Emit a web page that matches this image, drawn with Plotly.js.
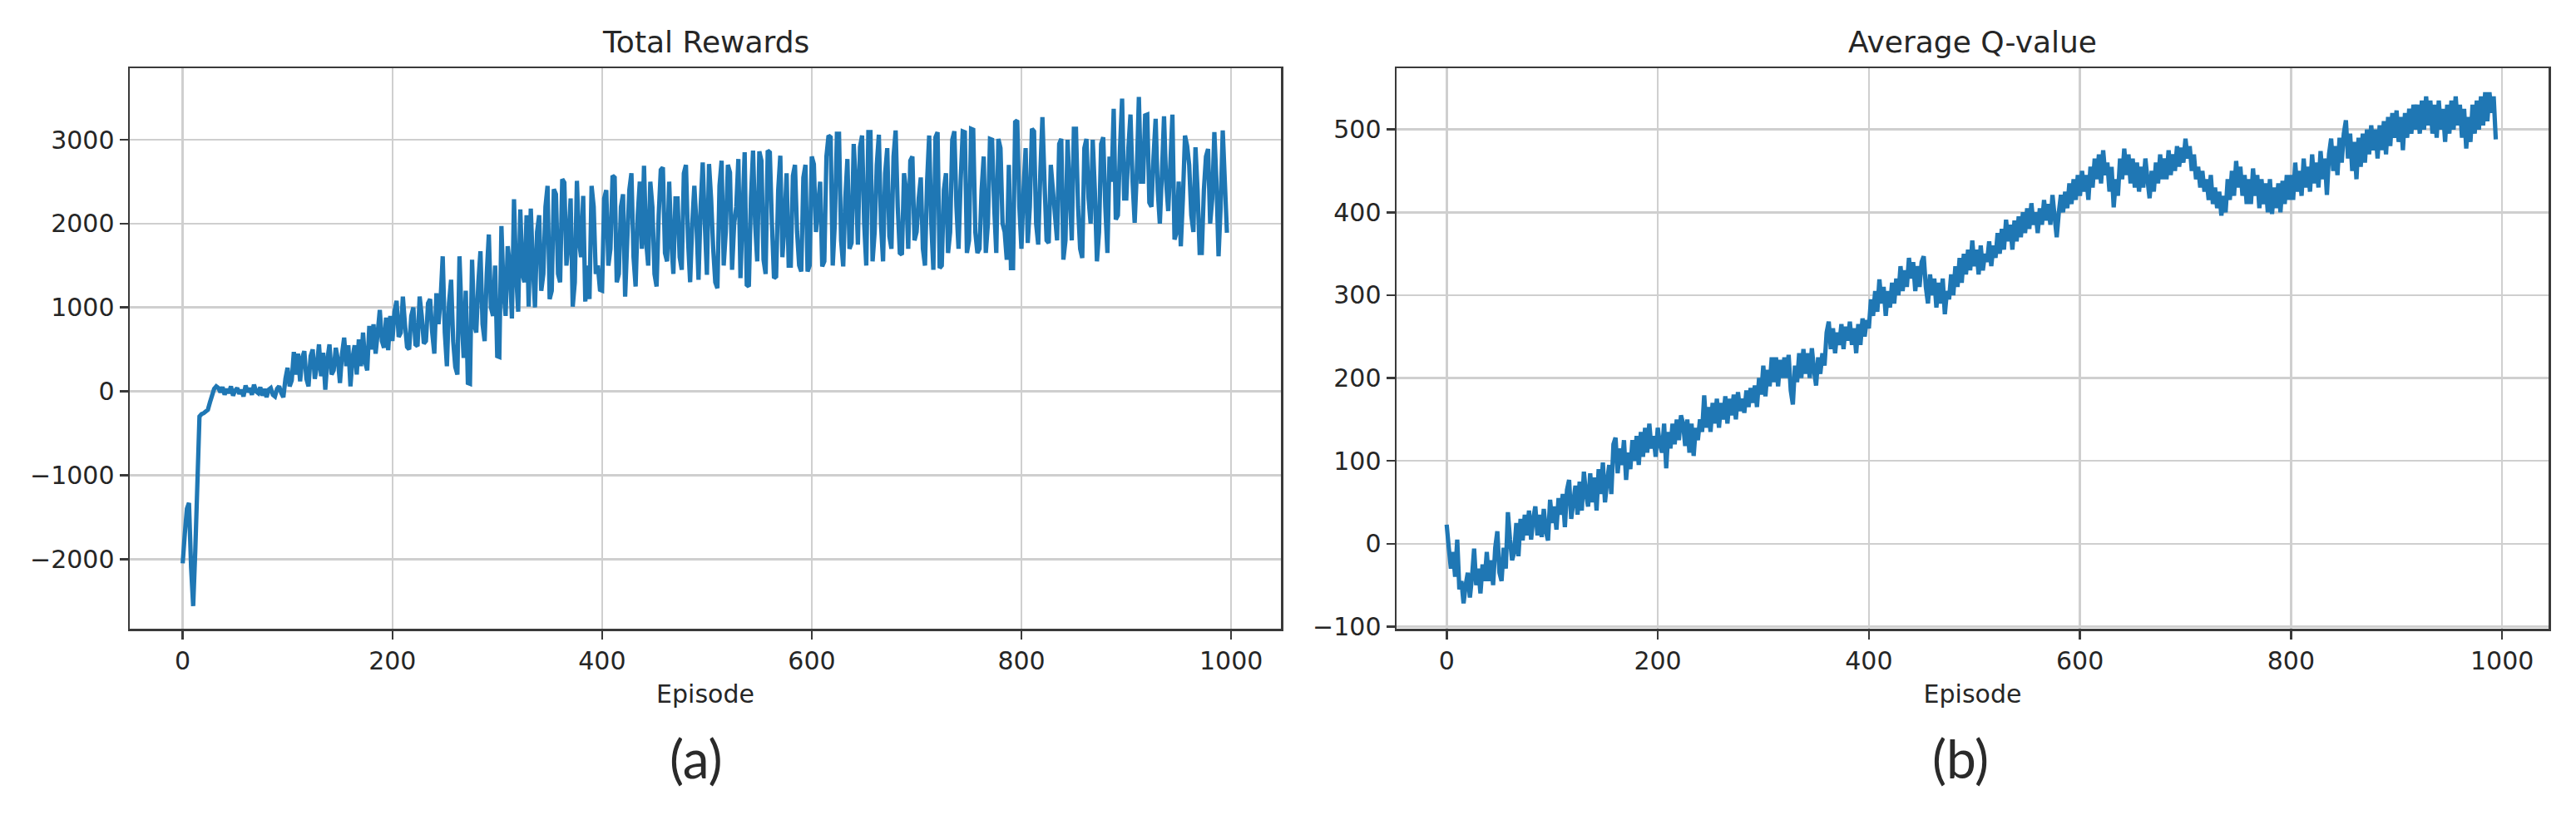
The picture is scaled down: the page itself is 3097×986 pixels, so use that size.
<!DOCTYPE html>
<html>
<head>
<meta charset="utf-8">
<script src="https://cdn.plot.ly/plotly-3.0.1.min.js"></script>
<style>
  html, body { margin: 0; padding: 0; background: #ffffff; }
  #chart { width: 3097px; height: 986px; }
</style>
</head>
<body>
<div id="chart"></div>
<script>
const episodeStep = 2;

// (a) Total Rewards, episodes 0..996
const totalRewards = [
  -2050, -1700, -1400, -1330, -2100, -2560, -1900, -1100, -300, -270, -260, -240, -220, -130, -50, 30, 60, 40, -10, 50,
  -40, 30, -20, 60, -50, 10, 40, -30, 20, -60, 70, -10, 40, -40, 80, 0, -20, 50, -50, 30,
  -70, 20, 40, -40, -60, 30, 60, -20, -70, 150, 280, 60, 130, 470, 200, 450, 120, 400, 480, 150,
  60, 420, 500, 150, 300, 560, 180, 460, 20, 380, 560, 200, 250, 520, 380, 100, 450, 640, 300, 550,
  60, 400, 550, 200, 620, 300, 700, 350, 250, 780, 500, 800, 450, 700, 970, 600, 520, 880, 490, 900,
  600, 950, 1080, 650, 700, 1130, 800, 530, 500, 900, 1000, 560, 540, 1130, 900, 570, 600, 1050, 1100, 700,
  450, 1170, 800, 1100, 1610, 700, 300, 1050, 1330, 600, 290, 200, 1610, 900, 400, 1200, 100, 90, 1570, 800,
  700, 1300, 1670, 800, 600, 1400, 1870, 1000, 900, 1500, 420, 410, 1970, 1200, 900, 1730, 1500, 870, 2290, 1400,
  950, 2170, 1400, 1300, 2100, 1010, 2180, 1500, 1000, 1900, 2100, 1200, 1400, 2200, 2450, 1100, 1200, 2410, 2350, 1400,
  1300, 2530, 2490, 1500, 1800, 2300, 1010, 1300, 2510, 1800, 1600, 2330, 1070, 1500, 1100, 2450, 2200, 1400, 1500, 1210,
  1200, 2300, 2400, 1500, 1700, 2570, 2550, 1300, 1400, 2200, 2350, 1130, 1800, 2400, 2600, 1600, 1250, 2100, 2500, 1700,
  2690, 1800, 1500, 2500, 2200, 1400, 1250, 2100, 2640, 2670, 1650, 1550, 2500, 1800, 1400, 2300, 2300, 1600, 1450, 2600,
  2700, 1800, 1300, 2000, 2450, 2000, 1330, 2200, 2730, 2000, 1390, 2710, 2300, 1700, 1300, 1230, 2450, 2750, 1500, 1900,
  2700, 2610, 1450, 2000, 2200, 2770, 1350, 2100, 2850, 1270, 1250, 2300, 2870, 2000, 1550, 2860, 2750, 1570, 1400, 2870,
  2850, 2000, 1350, 1370, 2400, 2810, 1600, 2000, 2600, 1500, 1500, 2570, 2700, 1900, 1500, 1430, 2550, 2700, 1430, 1500,
  2800, 2710, 1900, 2200, 2500, 1490, 1550, 2800, 3050, 3030, 1500, 2000, 3070, 3070, 1800, 1490, 2300, 2770, 1700, 1770,
  2950, 2500, 1750, 2910, 3050, 2000, 1500, 3090, 3090, 1550, 1900, 2700, 3060, 2000, 1550, 2600, 2900, 1850, 1700, 2800,
  3110, 2200, 1650, 1630, 2600, 2400, 1700, 2750, 2800, 1800, 1900, 2300, 2550, 1700, 1500, 2500, 3050, 2000, 1450, 3030,
  3090, 1470, 1500, 2400, 2600, 1650, 1900, 3000, 3100, 2200, 1700, 2500, 3100, 3090, 1650, 1800, 3130, 3120, 1900, 1650,
  1700, 2400, 2800, 1650, 2000, 3010, 3000, 2200, 1650, 3010, 2900, 2000, 1900, 1570, 2700, 1470, 1470, 3210, 3230, 2200,
  1700, 2400, 2900, 1770, 2200, 3130, 3100, 2000, 1750, 2600, 3270, 2500, 1800, 1770, 2700, 2400, 2100, 1800, 2950, 3010,
  1570, 1800, 3000, 2400, 1800, 3130, 3130, 2200, 1700, 1590, 2900, 3010, 2300, 2000, 3000, 2400, 1550, 1900, 2950, 3030,
  2200, 1650, 2800, 2500, 3370, 2050, 2100, 2900, 3490, 2300, 2300, 2900, 3300, 2500, 2010, 2600, 3510, 2500, 2500, 3290,
  3300, 2250, 2200, 2800, 3250, 2400, 2000, 2600, 3280, 2500, 2150, 2700, 3300, 1810, 1900, 2500, 1730, 2300, 3050, 2930,
  2700, 2100, 1900, 2910, 2400, 1650, 1650, 2400, 2800, 2890, 2000, 2300, 3090, 2500, 1610, 2200, 3110, 2500, 1890
];

// (b) Average Q-value, episodes 0..994
const averageQ = [
  23, -5, -30, -10, -40, 5, -55, -45, -72, -50, -35, -65, -40, -6, -50, -30, -60, -25, -45, -10,
  -45, -20, -50, -5, 15, -35, -45, -5, -30, 38, 5, -20, -10, 25, -15, 30, 4, 35, 10, 40,
  5, 30, 45, 10, 35, 8, 42, 15, 4, 53, 25, 45, 17, 55, 35, 60, 20, 65, 77, 30,
  50, 70, 35, 75, 40, 87, 60, 45, 85, 50, 80, 40, 90, 60, 98, 50, 75, 95, 60, 120,
  128, 85, 115, 95, 125, 77, 110, 90, 125, 100, 130, 95, 135, 105, 140, 110, 145, 115, 130, 105,
  140, 120, 110, 145, 91, 135, 115, 145, 120, 150, 125, 155, 145, 118, 150, 110, 145, 106, 140, 125,
  150, 135, 179, 140, 165, 135, 170, 145, 175, 140, 170, 150, 178, 145, 175, 155, 180, 150, 183, 160,
  175, 158, 185, 165, 188, 170, 191, 165, 200, 180, 215, 178, 210, 190, 225, 195, 225, 190, 222, 200,
  225, 200, 228, 185, 168, 215, 195, 230, 200, 235, 205, 230, 200, 236, 210, 191, 225, 205, 230, 215,
  255, 268, 235, 260, 230, 255, 240, 265, 235, 262, 245, 268, 240, 260, 230, 265, 240, 272, 250, 270,
  260, 295, 275, 305, 280, 319, 290, 310, 275, 305, 285, 315, 290, 320, 300, 335, 305, 330, 310, 345,
  320, 340, 305, 335, 310, 340, 347, 310, 290, 325, 300, 320, 285, 315, 290, 320, 277, 305, 295, 325,
  300, 335, 310, 345, 315, 350, 325, 355, 330, 366, 335, 355, 325, 360, 330, 350, 340, 365, 335, 360,
  345, 375, 350, 380, 355, 391, 365, 385, 355, 390, 365, 395, 370, 400, 375, 405, 380, 411, 385, 400,
  375, 405, 385, 415, 390, 410, 385, 421, 395, 370, 400, 421, 400, 425, 405, 435, 410, 440, 415, 445,
  420, 450, 425, 445, 415, 455, 430, 465, 440, 470, 435, 475, 445, 460, 425, 455, 406, 440, 420, 465,
  440, 477, 445, 470, 435, 465, 430, 460, 425, 455, 430, 465, 440, 417, 450, 425, 460, 435, 470, 440,
  465, 440, 475, 445, 470, 450, 480, 455, 478, 460, 489, 465, 480, 450, 470, 440, 455, 430, 450, 425,
  440, 415, 445, 410, 430, 405, 425, 396, 420, 400, 440, 415, 450, 420, 462, 430, 455, 420, 445, 410,
  440, 410, 453, 420, 445, 405, 440, 410, 435, 400, 440, 398, 430, 405, 435, 400, 438, 410, 445, 415,
  445, 415, 460, 425, 450, 420, 465, 430, 455, 425, 470, 435, 460, 430, 474, 440, 465, 421, 470, 489,
  450, 480, 445, 490, 460, 495, 511, 465, 495, 450, 485, 440, 490, 455, 495, 460, 500, 470, 505, 475,
  500, 465, 505, 475, 510, 470, 515, 480, 520, 490, 523, 485, 515, 475, 520, 490, 525, 495, 530, 500,
  530, 495, 535, 500, 540, 505, 535, 495, 530, 490, 535, 500, 525, 485, 530, 495, 535, 500, 540, 505,
  530, 490, 525, 477, 515, 485, 530, 495, 535, 500, 540, 505, 545, 510, 545, 520, 540, 488
];

const panelTitles = ['Total Rewards', 'Average Q-value'];
const panelLabels = ['(a)', '(b)'];
const xAxisTitle = 'Episode';

const rewardEpisodes = totalRewards.map((_, i) => i * episodeStep);
const qEpisodes = averageQ.map((_, i) => i * episodeStep);

const lineColor = '#1f77b4';
const textColor = '#262626';
const spineColor = '#3a3a3a';
const gridColor = '#cfcfcf';
const tickFont = { family: 'DejaVu Sans, sans-serif', size: 30, color: textColor };

const traces = [
  { x: rewardEpisodes, y: totalRewards, type: 'scatter', mode: 'lines',
    line: { color: lineColor, width: 5.2, simplify: false }, xaxis: 'x', yaxis: 'y', hoverinfo: 'skip' },
  { x: qEpisodes, y: averageQ, type: 'scatter', mode: 'lines',
    line: { color: lineColor, width: 5.2, simplify: false }, xaxis: 'x2', yaxis: 'y2', hoverinfo: 'skip' }
];

function xAxis(domain, range, anchor) {
  return {
    domain: domain, range: range, anchor: anchor,
    tickmode: 'linear', tick0: 0, dtick: 200,
    showgrid: true, gridcolor: gridColor, gridwidth: 2.5,
    zeroline: false, showline: true, mirror: true,
    linecolor: spineColor, linewidth: 2.5,
    ticks: 'outside', ticklen: 10, tickwidth: 2.5, tickcolor: spineColor,
    tickfont: tickFont,
    title: { text: xAxisTitle, font: tickFont, standoff: 14 }
  };
}
function yAxis(domain, range, anchor, dtick) {
  return {
    domain: domain, range: range, anchor: anchor,
    tickmode: 'linear', tick0: 0, dtick: dtick,
    showgrid: true, gridcolor: gridColor, gridwidth: 2.5,
    zeroline: false, showline: true, mirror: true,
    linecolor: spineColor, linewidth: 2.5,
    ticks: 'outside', ticklen: 10, tickwidth: 2.5, tickcolor: spineColor,
    tickfont: tickFont
  };
}

const W = 3097, H = 986;
const leftDom = [156 / W, 1540 / W];
const rightDom = [1679 / W, 3064 / W];
const yDom = [1 - 756 / H, 1 - 82 / H];

const layout = {
  width: W, height: H,
  margin: { l: 0, r: 0, t: 0, b: 0, pad: 0 },
  paper_bgcolor: '#ffffff', plot_bgcolor: '#ffffff',
  showlegend: false,
  hovermode: false,
  font: { family: 'DejaVu Sans, sans-serif', color: textColor },
  xaxis: xAxis(leftDom, [-50.5, 1047.5], 'y'),
  yaxis: yAxis(yDom, [-2830, 3853], 'x', 1000),
  xaxis2: xAxis(rightDom, [-47.5, 1044], 'y2'),
  yaxis2: yAxis(yDom, [-102.6, 574], 'x2', 100),
  annotations: [
    { text: panelTitles[0], xref: 'paper', yref: 'paper',
      x: (leftDom[0] + leftDom[1]) / 2, y: 1 - 51 / H, xanchor: 'center', yanchor: 'middle',
      showarrow: false, font: { family: 'DejaVu Sans, sans-serif', size: 36, color: textColor } },
    { text: panelTitles[1], xref: 'paper', yref: 'paper',
      x: (rightDom[0] + rightDom[1]) / 2, y: 1 - 51 / H, xanchor: 'center', yanchor: 'middle',
      showarrow: false, font: { family: 'DejaVu Sans, sans-serif', size: 36, color: textColor } },
    { text: panelLabels[0], xref: 'paper', yref: 'paper',
      x: 837 / W, y: 1 - 911 / H, xanchor: 'center', yanchor: 'middle',
      showarrow: false, font: { family: 'Lato, Noto Sans, sans-serif', size: 64, weight: 400, color: '#2a2a2a' } },
    { text: panelLabels[1], xref: 'paper', yref: 'paper',
      x: 2357 / W, y: 1 - 911 / H, xanchor: 'center', yanchor: 'middle',
      showarrow: false, font: { family: 'Lato, Noto Sans, sans-serif', size: 64, weight: 400, color: '#2a2a2a' } }
  ]
};

Plotly.newPlot('chart', traces, layout, { staticPlot: true, displayModeBar: false });
</script>
</body>
</html>
